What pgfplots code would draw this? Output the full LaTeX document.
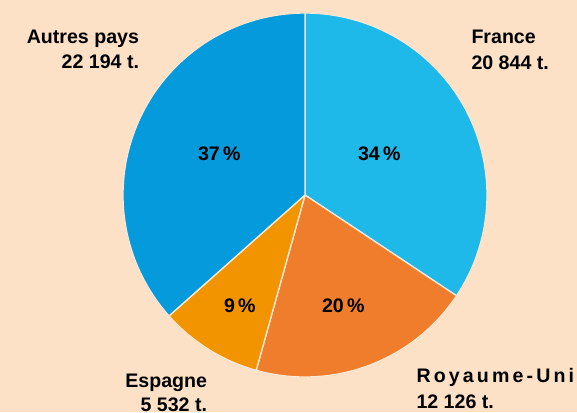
\documentclass[border=0pt]{standalone}
\usepackage{pgfplots}
\pgfplotsset{compat=1.18}
\usepackage{fontspec}
\setmainfont{Liberation Sans}
\definecolor{bg}{HTML}{FDE1C7}
\definecolor{edge}{HTML}{FBEBDD}
\definecolor{cfrance}{HTML}{1EB9E8}
\definecolor{cru}{HTML}{EF7D2C}
\definecolor{cesp}{HTML}{F29400}
\definecolor{cautres}{HTML}{049ADB}
\tikzset{lab/.style={font=\fontsize{19.6bp}{23bp}\selectfont\bfseries, inner sep=0pt, outer sep=0pt}}
% tonnages (in thousand t)
\def\vFrance{20.844}
\def\vRU{12.126}
\def\vEsp{5.532}
\def\vAutres{22.194}
\begin{document}
\begin{tikzpicture}
\pgfmathsetmacro{\tot}{\vFrance+\vRU+\vEsp+\vAutres}
\pgfmathsetmacro{\aA}{90}
\pgfmathsetmacro{\aB}{\aA-360*(\vFrance/\tot)}
\pgfmathsetmacro{\aC}{\aB-360*(\vRU/\tot)}
\pgfmathsetmacro{\aD}{\aC-360*(\vEsp/\tot)}
\pgfmathsetmacro{\aE}{\aD-360*(\vAutres/\tot)}
\begin{axis}[
  x=1bp, y=1bp, scale only axis, hide axis,
  xmin=0, xmax=577, ymin=0, ymax=412,
  clip=true,
]
\addplot[fill=bg, draw=none] coordinates {(0,0) (577,0) (577,412) (0,412)} -- cycle;
\addplot[fill=cfrance, draw=edge, line width=1.3bp, domain=\aA:\aB, samples=100, variable=\t]
  ({305+182*cos(t)},{217+182*sin(t)}) -- (axis cs:305,217) -- cycle;
\addplot[fill=cru, draw=edge, line width=1.3bp, domain=\aB:\aC, samples=80, variable=\t]
  ({305+182*cos(t)},{217+182*sin(t)}) -- (axis cs:305,217) -- cycle;
\addplot[fill=cesp, draw=edge, line width=1.3bp, domain=\aC:\aD, samples=50, variable=\t]
  ({305+182*cos(t)},{217+182*sin(t)}) -- (axis cs:305,217) -- cycle;
\addplot[fill=cautres, draw=edge, line width=1.3bp, domain=\aD:\aE, samples=100, variable=\t]
  ({305+182*cos(t)},{217+182*sin(t)}) -- (axis cs:305,217) -- cycle;
% outer edge without visible border
\addplot[draw=bg, line width=0.8bp, domain=0:360, samples=200, variable=\t]
  ({305+182.6*cos(t)},{217+182.6*sin(t)});
% percentages
\node[lab, anchor=base west] at (axis cs:198,252) {37\,\%};
\node[lab, anchor=base west] at (axis cs:358,252) {34\,\%};
\node[lab, anchor=base west] at (axis cs:224,99.5) {9\,\%};
\node[lab, anchor=base west] at (axis cs:322,99.5) {20\,\%};
% labels
\node[lab, anchor=base east] at (axis cs:139,369) {Autres pays};
\node[lab, anchor=base east] at (axis cs:139,343.5) {22 194 t.};
\node[lab, anchor=base west] at (axis cs:471.5,369) {France};
\node[lab, anchor=base west] at (axis cs:471.5,343) {20 844 t.};
\node[lab, anchor=base east] at (axis cs:207,25) {Espagne};
\node[lab, anchor=base east] at (axis cs:207,1) {5 532 t.};
\node[lab, anchor=base west] at (axis cs:416.5,29.5) {\addfontfeature{LetterSpace=16}Royaume-Uni};
\node[lab, anchor=base west] at (axis cs:416.5,4) {12 126 t.};
\end{axis}
\end{tikzpicture}
\end{document}
